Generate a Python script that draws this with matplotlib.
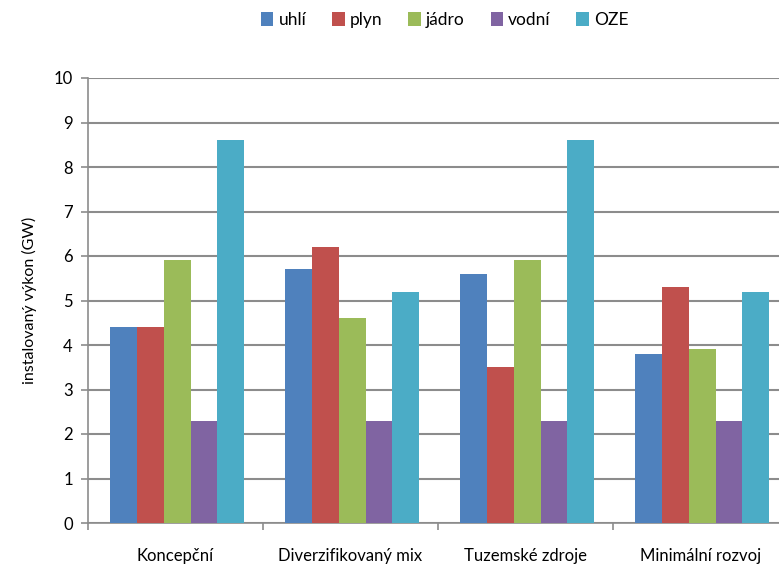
import numpy as np
import matplotlib.pyplot as plt

plt.rcParams['font.family'] = ['Lato', 'DejaVu Sans']

scenarios = ["Koncepční", "Diverzifikovaný mix", "Tuzemské zdroje", "Minimální rozvoj"]
series = ["uhlí", "plyn", "jádro", "vodní", "OZE"]
uhli = [4.4, 5.7, 5.6, 3.8]
plyn = [4.4, 6.2, 3.5, 5.3]
jadro = [5.9, 4.6, 5.9, 3.9]
vodni = [2.3, 2.3, 2.3, 2.3]
oze = [8.6, 5.2, 8.6, 5.2]
colors = ["#4F81BD", "#C0504D", "#9BBB59", "#8064A2", "#4BACC6"]

fig = plt.figure(figsize=(7.79, 5.67), dpi=100)
# the plot area runs past the right edge in the original
ax = fig.add_axes([88/779, 44/567, 700/779, 445/567])

x = np.arange(len(scenarios))
w = 0.153
for i, (name, vals) in enumerate(zip(series, [uhli, plyn, jadro, vodni, oze])):
    ax.bar(x + (i - 2) * w + 0.01, vals, w, color=colors[i], label=name, zorder=3)

ax.set_xlim(-0.5, 3.5)
ax.set_ylim(0, 10)
ax.set_yticks(range(0, 11))
ax.yaxis.grid(True, color="#8c8c8c", linewidth=1.5, zorder=0)

# category ticks between groups, labels at group centers
ax.set_xticks(np.arange(-0.5, 4, 1))
ax.set_xticklabels([])
ax.set_xticks(x, minor=True)
ax.set_xticklabels(scenarios, minor=True, fontsize=12)
ax.tick_params(axis="x", which="minor", length=0, pad=18)
ax.tick_params(axis="x", which="major", length=5, color="#8c8c8c", width=1.2)
ax.tick_params(axis="y", length=5, color="#8c8c8c", width=1.2, labelsize=12, pad=6)

for s in ["top", "right"]:
    ax.spines[s].set_visible(False)
for s in ["left", "bottom"]:
    ax.spines[s].set_color("#8c8c8c")
    ax.spines[s].set_linewidth(1.2)

ax.set_ylabel("instalovaný výkon (GW)", fontsize=11.5, labelpad=12)

fig.legend(loc="center", bbox_to_anchor=(0.571, 0.965), ncol=5, frameon=False,
           fontsize=12.5, handlelength=0.7, handleheight=0.9, handletextpad=0.3,
           columnspacing=1.5)

fig.savefig("out.png", dpi=100)
